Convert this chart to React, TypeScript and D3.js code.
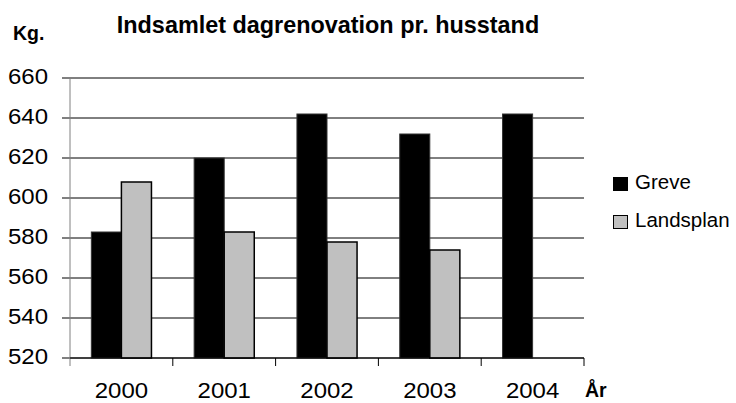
import React from "react";
import * as d3 from "d3";

const years = ["2000", "2001", "2002", "2003", "2004"];
const seriesNames = ["Greve", "Landsplan"];
const greve = [583, 620, 642, 632, 642];
const landsplan: (number | null)[] = [608, 583, 578, 574, null];
const yTicks = [520, 540, 560, 580, 600, 620, 640, 660];
const colors = ["#000000", "#c0c0c0"];

const W = 736, H = 403;
const left = 70, right = 584, top = 78, bottom = 358;
const font = "'Liberation Sans', Arial, sans-serif";

function STxt(props: { x: number; y: number; anchor?: string; size: number; bold?: boolean; sx?: number; children: React.ReactNode }) {
  const { x, y, anchor = "start", size, bold, sx = 1, children } = props;
  return (
    <g transform={`translate(${x},${y}) scale(${sx},1)`}>
      <text x={0} y={0} textAnchor={anchor as any} fontFamily={font} fontWeight={bold ? "bold" : "normal"} fontSize={size}>{children}</text>
    </g>
  );
}

export default function App() {
  const x = d3.scaleBand<string>().domain(years).range([left, right]);
  const inner = d3.scaleBand<string>().domain(seriesNames).range([0, x.bandwidth()]).paddingOuter(0.71).paddingInner(0);
  const y = d3.scaleLinear().domain([520, 660]).range([bottom, top]);
  const series = [greve, landsplan];
  return (
    <svg width={W} height={H} style={{ position: "absolute", left: 0, top: 0, background: "#fff" }}>
      <STxt x={328} y={32.5} anchor="middle" size={23.4} bold>Indsamlet dagrenovation pr. husstand</STxt>
      <STxt x={13} y={40} size={19.5} bold>Kg.</STxt>
      {yTicks.map(t => (
        <g key={t}>
          <line x1={62} x2={right} y1={y(t)} y2={y(t)} stroke="#000" strokeWidth={1} />
          <STxt x={48} y={y(t) + 6} anchor="end" size={22} sx={1.09}>{t}</STxt>
        </g>
      ))}
      {series.map((vals, si) => vals.map((v, i) => v == null ? null : (
        <rect key={si + "-" + i}
          x={(x(years[i]) as number) + (inner(seriesNames[si]) as number)}
          y={y(v)}
          width={inner.bandwidth()}
          height={bottom - y(v)}
          fill={colors[si]}
          stroke={si === 0 ? "#333" : "#000"}
          strokeWidth={si === 0 ? 1 : 1.5} />
      )))}
      <line x1={left} x2={left} y1={top} y2={bottom + 8} stroke="#808080" strokeWidth={1} />
      <line x1={left} x2={right} y1={bottom} y2={bottom} stroke="#000" strokeWidth={1} />
      {years.map((yr) => (
        <line key={yr} x1={(x(yr) as number) + x.bandwidth()} x2={(x(yr) as number) + x.bandwidth()} y1={bottom} y2={bottom + 8} stroke="#000" />
      ))}
      {years.map(yr => (
        <STxt key={yr} x={(x(yr) as number) + x.bandwidth() / 2} y={397.5} anchor="middle" size={22} sx={1.09}>{yr}</STxt>
      ))}
      <STxt x={585} y={397} size={19.5} bold>År</STxt>
      {seriesNames.map((n, i) => (
        <g key={n}>
          <rect x={613.5} y={177.5 + i * 38} width={14} height={13} fill={colors[i]} stroke="#000" strokeWidth={1} />
          <STxt x={635} y={188.5 + i * 38} size={20.5}>{n}</STxt>
        </g>
      ))}
    </svg>
  );
}
